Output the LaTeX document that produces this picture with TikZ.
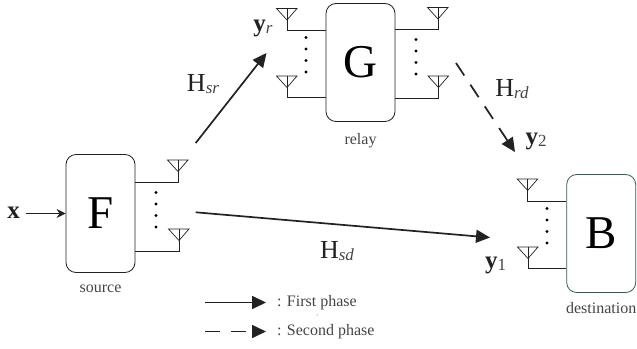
\documentclass[tikz,border=0pt]{standalone}
\usepackage{fontspec}
\setmainfont{Liberation Serif}
\usepackage{xcolor}
\usetikzlibrary{arrows.meta,positioning}
\definecolor{mainc}{HTML}{222222}
\definecolor{destc}{HTML}{2F5F4F}
\definecolor{capc}{HTML}{444444}
\newcommand{\lowtext}[1]{\raisebox{-2.5pt}{\fontsize{17}{17}\selectfont\color{capc}#1}}
\newcommand{\sym}[2]{{\fontsize{25}{25}\selectfont\bfseries #1}\lowtext{#2}}
\newcommand{\chan}[2]{{\fontsize{26}{26}\selectfont #1}\lowtext{\itshape #2}}
\tikzset{
  ar/.style={-{Stealth[length=9pt,width=9pt]},mainc,line width=0.9pt},
  bigar/.style={-{Stealth[length=14pt,width=13pt,inset=0pt]},mainc,line width=1.7pt},
  dashar/.style={bigar,dash pattern=on 15pt off 11pt},
  box/.style={draw=mainc,line width=0.8pt,rounded corners=10pt,minimum width=69pt,minimum height=118pt,inner sep=0pt,font=\fontsize{47}{47}\selectfont},
  captext/.style={font=\fontsize{16}{16}\selectfont,text=capc,inner sep=0pt},
  symtext/.style={inner sep=0pt,text=mainc},
  wire/.style={draw=mainc,line width=0.8pt},
  ant/.style={draw=mainc,line width=0.7pt},
  dotnode/.style={circle,fill=black,inner sep=0pt,minimum size=3.4pt}
}
\begin{document}
\begin{tikzpicture}[x=1pt,y=-1pt]
\useasboundingbox (0,0) rectangle (637,348);
\node[box] (srcbox) at (100.5,213.5) {F};
\node[box] (relbox) at (360.5,62.5) {G};
\node[box,draw=destc] (dstbox) at (601.2,233.5) {B};
\node[captext,below=11.5pt of srcbox] (srccap) {source};
\node[captext,below=11.5pt of relbox] (relcap) {relay};
\node[captext,below=9.5pt of dstbox] (dstcap) {destination};
% antennas: x of mast, y of top, y of wire, box side
\foreach \mx/\ty/\wy/\bx in {178/160/182.5/srcbox.east,179/229/251/srcbox.east,287/8.5/30/relbox.west,287/76/97.5/relbox.west,438/7.5/29.5/relbox.east,438.5/76/98/relbox.east,527.7/179/201/dstbox.west,528/247/268.7/dstbox.west}{
  \draw[ant] (\mx-10.5,\ty) -- (\mx+10,\ty) -- (\mx,\ty+11.5) -- cycle;
  \draw[wire] (\mx,\ty) -- (\mx,\wy) -- (\bx |- 0,\wy);
}
\foreach \dx/\dy in {156/192.5,306/37.5,416/39.5,547/208.5}{
  \foreach \k in {0,1,2,3}{\node[dotnode] at (\dx,\dy+\k*11.5) {};}
}
\node[symtext] (xin) at (13.5,212.5) {\fontsize{25}{25}\selectfont\bfseries x};
\coordinate (xfrom) at (26,213.5);
\draw[ar] (xfrom) -- (srcbox.west);
\node[symtext] (yr) at (263,28) {\sym{y}{\itshape r}};
\node[symtext] (ytwo) at (536,141) {\sym{y}{2}};
\node[symtext] (yone) at (495.5,265) {\sym{y}{1}};
\node[symtext] (hsr) at (203,84) {\chan{H}{sr}};
\node[symtext] (hrd) at (512,89) {\chan{H}{rd}};
\node[symtext] (hsd) at (337,251) {\chan{H}{sd}};
\coordinate (srfrom) at (195.7,143);
\coordinate (srto) at (266.5,53);
\coordinate (sdfrom) at (195.7,212.3);
\coordinate (sdto) at (490,237.5);
\coordinate (rdfrom) at (456,63);
\coordinate (rdto) at (515,152);
\draw[bigar] (srfrom) -- (srto);
\draw[bigar] (sdfrom) -- (sdto);
\draw[dashar] (rdfrom) -- (rdto);
% legend
\coordinate (firstfrom) at (205,302.5);
\coordinate (firstto) at (266,302.5);
\coordinate (secondfrom) at (205,331.5);
\coordinate (secondto) at (266,331.5);
\draw[bigar] (firstfrom) -- (firstto);
\draw[dashar] (secondfrom) -- (secondto);
\node[captext,right=11pt of firstto] (firstlbl) {: First phase};
\node[captext,right=11pt of secondto] (secondlbl) {: Second phase};
\fill[mainc] (317,315) circle (0.5);
\end{tikzpicture}
\end{document}
